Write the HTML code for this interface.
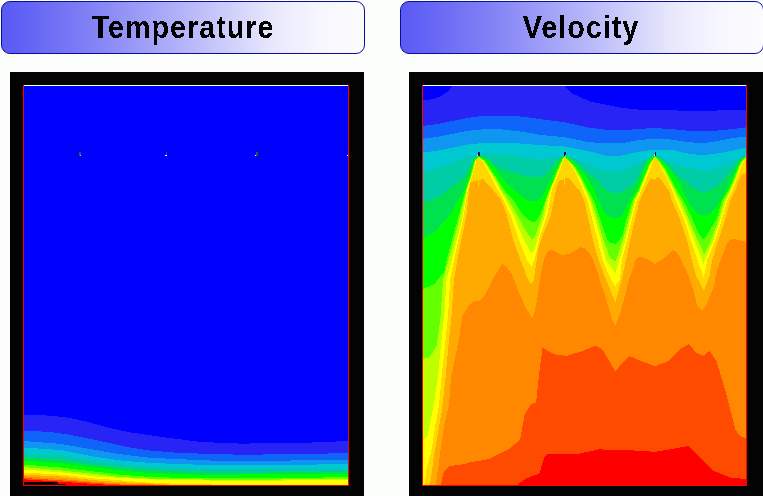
<!DOCTYPE html>
<html><head><meta charset="utf-8">
<style>
html,body{margin:0;padding:0;}
body{width:763px;height:496px;overflow:hidden;background:#fcfefc;position:relative;font-family:"Liberation Sans",sans-serif;}
.hdr{position:absolute;top:1px;height:53px;width:364px;box-sizing:border-box;border:1px solid #0c0c9c;border-radius:9px;background:linear-gradient(to right,#5a5af5 0%,#6262f5 6%,#8282f6 25%,#b4b4f9 50%,#e8e8fd 75%,#f6f6fe 87%,#fcfcfe 100%);}
.hdr span{position:absolute;left:0;right:0;top:-4px;text-align:center;font-weight:bold;font-size:31px;line-height:60px;color:#000;transform:scaleX(0.93);letter-spacing:1px;white-space:nowrap;filter:url(#crisp);}
.frame{position:absolute;top:72px;background:#040304;}
svg{position:absolute;left:0;top:0;}
</style></head><body>
<svg width="0" height="0" style="position:absolute"><filter id="crisp" x="0" y="0" width="100%" height="100%"><feComponentTransfer><feFuncA type="discrete" tableValues="0 1"/></feComponentTransfer></filter></svg>
<div class="hdr" style="left:1px"><span>Temperature</span></div>
<div class="hdr" style="left:400px"><span style="left:-2px">Velocity</span></div>
<div class="frame" style="left:10px;width:354px;height:424px"></div>
<div class="frame" style="left:409px;width:354px;height:424px"></div>
<svg width="763" height="496" viewBox="0 0 763 496" shape-rendering="crispEdges">
<defs>
<clipPath id="ct"><rect x="24" y="86" width="324" height="399"/></clipPath>
<clipPath id="cv"><rect x="423" y="86" width="323" height="399"/></clipPath>
</defs>
<rect x="23" y="85" width="326" height="401" fill="#ff0000"/>
<rect x="24" y="85" width="324" height="1" fill="#ffffff"/>
<g clip-path="url(#ct)">
<rect x="24" y="86" width="324" height="399" fill="#0000ff"/>
<path d="M24,414.5 40,415 54,416 70,418 88,422 110,428 130,432.4 160,436.7 200,441.9 240,443.6 300,443 348,441 348,485 24,485Z" fill="#2824f5"/>
<path d="M24,430.5 50,432 71,435 100,441 130,447.5 150,450.5 180,453 240,454.7 300,454.2 348,453 348,485 24,485Z" fill="#0f64fa"/>
<path d="M24,441 60,443.8 90,449 120,454.2 150,457.8 180,459.2 210,460.5 240,461.4 348,459.5 348,485 24,485Z" fill="#0f96f0"/>
<path d="M24,447.5 60,450 90,456 120,460.4 150,462.9 180,464 210,465.2 240,465 348,464.3 348,485 24,485Z" fill="#00c8d2"/>
<path d="M24,453.6 60,455.2 90,460.5 120,464.2 150,466.8 180,468.2 210,469.5 240,469.3 348,468.6 348,485 24,485Z" fill="#00cda5"/>
<path d="M24,457.8 60,459.4 90,464 120,467.5 150,470.3 180,471.5 210,472.7 240,472.7 348,471.8 348,485 24,485Z" fill="#00e150"/>
<path d="M24,460.7 60,463.2 90,467 120,470.3 150,473.1 180,474 210,475 240,474.5 348,473.6 348,485 24,485Z" fill="#00ff00"/>
<path d="M24,464.5 60,467.5 90,471 120,474.6 150,477 180,477.8 240,478.2 348,477.3 348,485 24,485Z" fill="#64ff00"/>
<path d="M24,467 60,470.3 95,474 120,477 150,478.6 180,479.2 240,480 348,478.7 348,485 24,485Z" fill="#beff00"/>
<path d="M24,469.6 60,472.2 95,476.5 120,477.9 150,479.4 180,480 240,481 348,479.8 348,485 24,485Z" fill="#ffff00"/>
<path d="M24,472.5 60,474.6 95,478.5 120,480.3 150,482.9 180,483.8 235,485 348,485 24,485Z" fill="#ffd700"/>
<path d="M24,474.7 60,476.5 95,480.3 120,482.2 150,483.5 175,485 348,485 24,485Z" fill="#ffaa00"/>
<path d="M24,476.4 60,478.9 95,481.9 120,483.6 150,484.2 160,485 348,485 24,485Z" fill="#ff8800"/>
<path d="M24,478 60,480.3 95,482.8 120,484.5 130,485 348,485 24,485Z" fill="#ff4b00"/>
<path d="M24,479.3 60,481.7 95,484 110,485 348,485 24,485Z" fill="#ff0000"/>
</g>
<path d="M24,481.5H48V482.3H58V483.6H66V485H24Z" fill="#050505"/>
<rect x="422" y="85" width="325" height="401" fill="#ff0000"/>
<rect x="423" y="85" width="323" height="1" fill="#ffffff"/>
<g clip-path="url(#cv)">
<rect x="423" y="86" width="323" height="399" fill="#0000ff"/>
<path d="M423,100 433,99.3 441,96 449,90.5 452,86 564,86 572.6,93.7 590,101.5 606,104.7 622,107.9 638,109.5 670,110.3 702,111.1 734.5,109.8 746,109.5 746,485 423,485Z" fill="#2824f5"/>
<path d="M423,125.9 436,124.3 452,121.1 468,117.9 484.5,115.5 500,115.5 524,116.7 540,119.1 564,122.1 588,127.5 606,129.7 622,130.5 638,128.9 654.5,128.1 670,128.9 686,130.5 702,131.3 718,130.5 734.5,128.9 746,127.3 746,485 423,485Z" fill="#0f64fa"/>
<path d="M423,138.8 436,137.2 452,134 468,130.8 484.5,129.2 500,129.2 524,132 540,134.8 564,137.2 588,142 606,143.4 622,143.4 638,140.2 654.5,138.5 670,139.4 686,141.8 702,143.4 718,141 734.5,137.7 746,136.9 746,485 423,485Z" fill="#0f96f0"/>
<path d="M423,152.5 436,150.9 452,147.7 468,144.5 484.5,142.9 500,142.9 520,143.5 540,145.1 564,146.3 588,151.1 606,155.5 616,156 624,155.2 632,153.2 640,151.6 654.5,149.8 673,150 686,153.3 702,155.3 720,153 735,150 746,147.5 746,485 423,485Z" fill="#00c8d2"/>
<path d="M423,171.7 440,167.3 448.1,164.5 456.1,161.3 464.2,158.1 472.3,156.5 478.6,155.2 488.1,154 504.2,154.8 520,156.5 534.1,159.3 546.2,158.9 554.2,158.1 559.9,156.9 564.8,155.2 574.1,158.1 582.2,162.1 590.2,166.1 606,170.8 616,171.8 624.1,169.8 632.1,166.5 640.2,162.9 646.6,158.9 652.3,156 655,155.2 664.1,158.9 672.2,162.9 680.2,166.1 692,169 708,171 720.1,167.7 728.2,164.5 736.2,159.7 742.7,156.5 746,155.4 746,485 423,485Z" fill="#00cda5"/>
<path d="M423,203 434.5,199 440,196 448,189.5 456.1,183.1 464.2,177.4 468.2,171 471.5,162.9 474.7,158.1 477.1,156 478.6,155.8 481.6,156 488.1,158.9 496.1,166.1 504.2,169.4 512.3,172.6 520,174.2 526,176.6 538.1,177.4 544.5,175.8 548.6,171 552.6,166.1 556.6,161.3 560.7,157.7 564.8,155.8 568.5,157.3 574.1,161.3 582.2,168.5 590.2,175 598.3,180.6 603,187 610,192.5 616,193.5 622,192 628.1,188 633.7,183.9 638.6,175.8 642.6,167.7 646.6,161.3 650.7,157.3 655,155.8 659.3,158.1 665.7,163.7 672.2,170.2 680.2,177.4 688.3,183.9 695,189 702,192 710,190.5 720.1,183.9 725.7,177.4 732.2,170.2 737,162.9 741.9,158.1 746,156 746,485 423,485Z" fill="#00e150"/>
<path d="M423,238 434.5,232 449,216.3 456.3,204 462,194 464.2,190 467.4,180.6 470.6,170.2 473.9,160.5 476.3,156.9 478.6,156 488.1,160.5 496.1,170.2 504.2,180.6 508.5,185 520,195 528,200.7 532,201 537.7,200.7 543,195 548,185 550.2,182.3 553.4,174.2 557.5,166.1 561.5,158.9 564.8,156 570.1,158.9 578.1,166.1 586.2,176.6 594.5,190 597.7,200 603,210 607,215.2 609,217 615,218 621,217 622.4,215.2 630.2,200 636.2,190 640.2,180.6 643.4,171.8 647.5,162.9 651,158 655,156 660,158.5 668.1,166.9 674.6,175.8 680.2,184.7 682.3,190 687,200 694,210 697,213.5 704,216 710,213.5 716,207 721,200 726.5,190 730.6,181.5 734.6,172.6 738.6,163.7 742.7,158.1 746,156.5 746,485 423,485Z" fill="#00ff00"/>
<path d="M423,289 434.5,284 444,272 449,251 457.5,220 465.8,190 469,180.6 471.9,171 474.7,160.5 478.6,156.5 484.8,160.5 492.1,171 498.5,180.6 504.2,190 513.3,200 523.1,215 528,219.5 534,222.5 537,219 540.1,215 545.7,200 549.4,190 552.6,182.3 555.8,174.2 559.1,166.1 562,159.5 564.8,156.5 568.5,159.7 576.5,168.5 583,179.8 588.2,190 593.7,200 599,215 604,230 607.4,240 611,243 615.3,243.8 618,242 622.5,235 626.1,220 632.6,200 638.6,190 641.8,182.3 645.8,172.6 649.9,162.9 655,156.5 658.5,159.7 665.7,169.4 671.4,179.8 676.8,190 682.9,200 690.7,215.2 692.6,220 698,232 703.2,239.5 706,237 711,228 716.1,220 722.6,200 728.8,190 733,180.6 736.2,172.6 740.3,162.9 743,159 746,157 746,485 423,485Z" fill="#64ff00"/>
<path d="M423,359 429.7,357.4 436.9,345.3 440.6,316.3 443,280 451,251 459,220 466.5,190 469.6,180.6 472.5,171 475,160.5 478.6,157 484,160.5 490.5,171 496.9,180.6 501.7,190 508.5,200 517.1,215 524,228 529.5,236 532.2,239.5 535,237 538,228 542.5,215 546,200 550,190 553.2,182.3 556.5,174.2 559.7,166.1 562.5,159.5 564.8,157 568,160 575.3,168.5 581.7,179.8 586.6,190 591.3,200 596,215 603.4,240 610.2,258 615.3,261.2 616.3,260 622.9,240 628.5,220 634.2,200 639.5,190 642.5,182.3 646.5,172.6 650.5,162.9 655,157 658,160 664.5,169.4 670,179.8 675,190 680.5,200 689,220 697.5,240 704.3,254.2 711.3,240 718.5,220 724.2,200 730,190 734,180.6 737,172.6 741,162.9 746,158 746,485 423,485Z" fill="#beff00"/>
<path d="M423,441 427.7,435.3 432.2,413.2 437.8,378 441,345 444.2,316 446.6,280 454,251 462,220 467,190 470,180.6 473,171 475.5,160.5 478.6,157.5 483.2,160.5 489.7,171 495.3,180.6 500.2,190 506,200 513.5,215 523.8,240 531.7,253.7 535,248 538.8,235 544.9,215 548,200 550.4,190 553.8,182.3 557,174.2 560.3,166.1 563,159.5 564.8,157.5 567.5,160 574.1,168.5 580.5,179.8 585.2,190 589.7,200 594,215 601,240 606.2,260.2 615.3,273.3 619.3,260.2 625.3,240 630.2,220 635.5,200 640.5,190 643,182.3 647,172.6 651,162.9 655,157.5 657.5,160 663.5,169.4 668.5,179.8 674,190 678.1,200 686,218 694.2,240 702.3,260 703.8,265.3 704.8,260 713.7,240 720.2,220 725.8,200 731,190 734.5,182.3 737.5,174.2 741.5,162.9 746,159 746,485 423,485Z" fill="#ffff00"/>
<path d="M424.4,485 426.6,468.6 431.1,453 435.5,424.3 439,405 441.5,378 445,345 448,316 450.2,280 456,251 463,220 467.8,190 470.6,180.6 473.9,170.2 476.7,159.7 478.6,158 482.4,161.3 488.1,171 492.9,180.6 497.7,190 503.6,200 510.4,215 519,240 527,260 531.7,267.3 535,258 540.3,235 547.3,215 550,200 551.8,190 555,182.3 558.3,174.2 561.5,166.1 563.5,159.7 564.8,158 566.8,158.9 572.5,167.7 578.1,178.2 583,190 587.3,200 591.2,215 597.7,240 602.6,260.2 611.2,280 615.3,286 619.8,280 622,260 626.9,240 631.8,220 637.1,200 641.5,190 645,182.3 649.1,171.8 653.1,160.5 655,158 656.8,158.9 661.7,168.5 667.3,179.8 672,190 675.7,200 683.5,218 691,240 697.5,260 703.8,277.4 707.3,260 715.3,240 721.8,220 727.4,200 732.5,190 735.4,182.3 738.6,174.2 742.7,162.9 746,157.5 746,485 424.4,485Z" fill="#ffd700"/>
<path d="M430,485 434.4,453 442,410 445.5,378 448.5,345 451.5,316 453.9,280 459,251 466.6,215 469,191 470.6,182.3 476.3,180.6 477.8,180.3 478,187 479,187 479.2,180 483.2,179 488.1,184.7 493,190 501.2,200 506.8,215 513.3,240 520.6,260 528.2,280 531.2,284.5 533.8,280 536,265 538,250 542.8,235 551,215 554,200 555.8,190 558.3,182.3 560.7,179.8 564,179.3 564.2,185 565.2,185 565.4,178.2 568.5,177.5 572.5,182.3 576.5,187.9 579.5,190 584,200 587.5,215 592.9,240 598.6,260.2 606.2,280 615.3,302.7 621.5,280 626,260 630.2,240 635,220 639.8,200 644.6,190 648.3,182.3 650.7,179 653,178.5 654.2,180.3 656,178.2 658.5,177 662.5,181.5 666.5,187.9 669,190 671.6,200 679.5,218 687,240 691.8,260 695.7,275 703.8,290.6 709.8,275 712.1,260 718.5,240 725,220 730.6,200 735.5,190 737.8,182.3 741.9,174.2 746,173.4 746,485 430,485Z" fill="#ffaa00"/>
<path d="M435.5,485 438.8,464 440,453 444.4,424.3 449,405 451,378 458.7,340.5 462.3,316.3 468.4,306.6 473,301.7 480,300.6 485.1,294.8 493.7,277.7 502.2,264 507,267.3 512.1,275.3 516.1,285 520,295 527,310 532.3,318.8 535,310 537,300 539.3,285 541.8,269.3 544.4,258.2 547.4,252.1 551.4,249.6 562,255.2 570,253.6 580.9,247.2 585,248.5 589,252.1 593.1,260.2 597.1,270.3 601.1,285 604.7,293.6 611.8,318.9 615.3,325.9 620.5,312 625,295 628.9,280 632.4,270.3 635.4,260.2 638.4,257.2 645,257.7 655,263.9 664.7,257.8 673,250.1 677,252.6 681.1,260.2 685.1,268.3 688.1,275 691,283 693.2,290.1 697.2,305.3 702.2,311.3 706.3,305.3 712.3,290.1 714.3,285 715.9,275 717.4,269.3 721.4,258.2 726.4,245.1 729.5,240 733,239 738.7,240.1 746,242 746,485 435.5,485Z" fill="#ff8800"/>
<path d="M441,485 443.2,473 448.8,466.3 464.3,464.1 470,462.3 489.4,459 508.7,449.4 520,439.7 524.8,413.9 531.3,404.2 536.1,402.6 539.4,371.9 542.6,347.7 553.9,354.2 566.8,355.8 582.9,351 595.8,345.5 602.3,349.4 615.4,371.4 624,361.1 629.1,356 641.1,361.1 654.8,366.2 668.5,361.1 680.5,349.1 689,344 695.9,352.5 702.7,356 709.6,350.8 716.4,361.1 726.7,395.3 735.3,429.6 740.4,436.4 746,438.2 746,485 441,485Z" fill="#ff4b00"/>
<path d="M516.8,485 526.5,478.4 539.4,473.5 544.2,457.4 547.4,454.2 576.5,454.2 599,449.4 627.4,450.1 654.8,451.8 675.3,448.4 688.4,446 699.3,457 713,470.7 730.1,477.5 746,479.2 746,485 516.8,485Z" fill="#ff0000"/>
</g>
<rect x="478" y="152" width="2" height="4" fill="#141450"/><rect x="477" y="155" width="1" height="1" fill="#e0f0ff"/>
<rect x="564" y="152" width="2" height="4" fill="#141450"/><rect x="565" y="155" width="1" height="1" fill="#a0c0ff"/>
<rect x="655" y="152" width="1" height="4" fill="#141450"/><rect x="654" y="155" width="1" height="1" fill="#ffffff"/>
<rect x="79" y="152" width="2" height="4" fill="#2a5a3a"/><rect x="80" y="155" width="1" height="1" fill="#a0d0ff"/>
<rect x="166" y="152" width="1" height="4" fill="#2a5a3a"/><rect x="165" y="155" width="2" height="1" fill="#ffffff"/>
<rect x="256" y="152" width="2" height="4" fill="#2a5a3a"/><rect x="255" y="155" width="1" height="1" fill="#ffffff"/>
<rect x="347" y="155" width="1" height="1" fill="#ffffff"/>
</svg>
</body></html>
